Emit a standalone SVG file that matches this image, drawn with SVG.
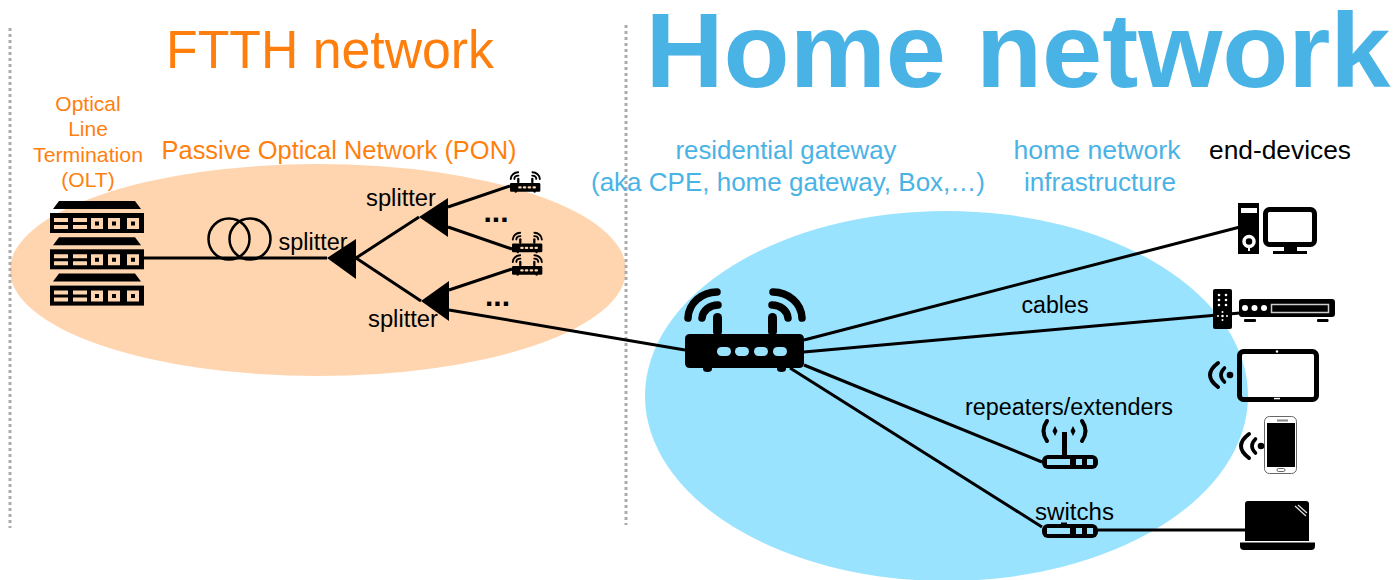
<svg xmlns="http://www.w3.org/2000/svg" xmlns:xlink="http://www.w3.org/1999/xlink" width="1397" height="580" viewBox="0 0 1397 580">
<style>
text{font-family:"Liberation Sans",Arial,sans-serif;fill:#000}
.o{fill:#FF7F0E}.b{fill:#4AB3E6}
.m{text-anchor:middle}
.c{fill:none;stroke:#000;stroke-width:3}
.a{fill:none;stroke:#000;stroke-linecap:round}
.w{fill:#fff}
</style>
<defs>
<g id="router">
<path fill="#000" d="M5 0H114Q119 0 119 5V29Q119 34 114 34H101V35A4.500 3 0 0 1 92 35V34H27V35A4.500 3 0 0 1 18 35V34H5Q0 34 0 29V5Q0 0 5 0Z"/>
<rect x="28" y="-21" width="9" height="23" rx="4.500" fill="#000"/><rect x="83" y="-21" width="9" height="23" rx="4.500" fill="#000"/>
<path class="a" stroke-width="7.500" d="M17 -16A16 14 0 0 1 33 -29M103 -16A16 14 0 0 0 87 -29"/>
<path class="a" stroke-width="7.500" d="M3 -16A29 27 0 0 1 32 -42M117 -16A29 27 0 0 0 88 -42"/>
<rect x="32" y="13" width="14" height="9" rx="4.500"/><rect x="50" y="13" width="14" height="9" rx="4.500"/><rect x="69" y="13" width="14" height="9" rx="4.500"/><rect x="88" y="13" width="14" height="9" rx="4.500"/>
</g>
<g id="oltunit">
<path fill="#000" d="M53 209L59 201H135L141 209Z"/>
<rect x="50" y="213" width="94" height="20" fill="#000"/>
<path fill="#FFD5B0" d="M54 218h14v4h-14zM73 218h14v4h-14zM54 225h14v4h-14zM73 225h14v4h-14z"/>
<path fill="#FFD5B0" fill-rule="evenodd" d="M91 218h12v11h-12zM95 221.500v4h4v-4zM108 218h12v11h-12zM112 221.500v4h4v-4zM127 218h12v11h-12zM131 221.500v4h4v-4z"/>
</g>
<g id="wifi">
<circle cx="0" cy="0" r="3.300" fill="#000"/>
<path class="a" stroke-width="3.600" d="M-5.500 -7Q-12.500 0 -5.500 7"/>
<path class="a" stroke-width="4" d="M-12 -12Q-28 0 -12 12"/>
</g>
<g id="box">
<rect width="56" height="14" rx="6" fill="#000"/>
<rect x="5" y="4" width="23" height="6"/><rect x="34" y="4" width="6" height="6"/><rect x="45" y="4" width="6" height="6"/>
</g>
</defs>

<rect width="1397" height="580" fill="#fff"/>
<ellipse cx="318" cy="270" rx="308" ry="106" fill="#FFD5B0"/>
<ellipse cx="946.500" cy="396" rx="301.500" ry="185" fill="#99E3FF"/>
<path d="M10 28V528M626 25V525" fill="none" stroke="#ABABAB" stroke-width="3" stroke-dasharray="3 3"/>

<text x="330" y="68" class="o m" font-size="54" textLength="328" lengthAdjust="spacingAndGlyphs">FTTH network</text>
<text x="1018" y="87" class="b m" font-size="106" font-weight="700" textLength="745" lengthAdjust="spacingAndGlyphs">Home network</text>
<g font-size="21">
<text x="88" y="111" class="o m">Optical</text><text x="88" y="136" class="o m">Line</text><text x="88" y="162" class="o m" textLength="110" lengthAdjust="spacingAndGlyphs">Termination</text><text x="88" y="187" class="o m">(OLT)</text>
</g>
<text x="339" y="159" class="o m" font-size="25" textLength="355" lengthAdjust="spacingAndGlyphs">Passive Optical Network (PON)</text>
<text x="786" y="159" class="b m" font-size="25" textLength="221" lengthAdjust="spacingAndGlyphs">residential gateway</text>
<text x="788" y="191" class="b m" font-size="25" textLength="394" lengthAdjust="spacingAndGlyphs">(aka CPE, home gateway, Box,…)</text>
<text x="1097" y="159" class="b m" font-size="25" textLength="167" lengthAdjust="spacingAndGlyphs">home network</text>
<text x="1100" y="191" class="b m" font-size="25" textLength="152" lengthAdjust="spacingAndGlyphs">infrastructure</text>
<text x="1280" y="159" class="m" font-size="25" textLength="142" lengthAdjust="spacingAndGlyphs">end-devices</text>

<g id="connectors">
<path class="c" d="M144 258H327M356 258L419 217M356 258L421 301M448 207L510 186M448 227L512 249M449 290L512 269M449 310L685 350"/>
<path class="c" d="M804 340L1240 227M804 352L1240 313M804 365L1042 462M790 368L1042 527M1098 530H1245"/>
<circle cx="229" cy="239" r="20.500" fill="none" stroke="#000" stroke-width="2.500"/>
<circle cx="250" cy="239" r="20.500" fill="none" stroke="#000" stroke-width="2.500"/>
</g>

<g id="olt">
<use xlink:href="#oltunit" href="#oltunit"/>
<use xlink:href="#oltunit" href="#oltunit" y="36.300"/>
<use xlink:href="#oltunit" href="#oltunit" y="72.600"/>
</g>
<g id="splitter-1"><path d="M327 258L356 239V279Z"/><text x="313" y="250" class="m" font-size="23" textLength="69" lengthAdjust="spacingAndGlyphs">splitter</text></g>
<g id="splitter-2"><path d="M419 217L448 198V237Z"/><text x="401" y="206" class="m" font-size="23" textLength="70" lengthAdjust="spacingAndGlyphs">splitter</text></g>
<g id="splitter-3"><path d="M421 301L449 281V321Z"/><text x="403" y="327" class="m" font-size="23" textLength="70" lengthAdjust="spacingAndGlyphs">splitter</text></g>
<text x="496" y="222" class="m" font-size="30" font-weight="700">...</text>
<text x="497.500" y="306" class="m" font-size="30" font-weight="700">...</text>

<g id="onu-1" fill="#FFD5B0"><use xlink:href="#router" href="#router" transform="translate(510 183) scale(.255)"/></g>
<g id="onu-2" fill="#FFD5B0"><use xlink:href="#router" href="#router" transform="translate(512 243.500) scale(.255)"/></g>
<g id="onu-3" fill="#FFD5B0"><use xlink:href="#router" href="#router" transform="translate(512 266) scale(.255)"/></g>
<g id="gateway" fill="#99E3FF"><use xlink:href="#router" href="#router" transform="translate(685 334)"/></g>

<text x="1055" y="313" class="m" font-size="23" textLength="67" lengthAdjust="spacingAndGlyphs">cables</text>
<g id="repeater" fill="#99E3FF">
<rect x="1062" y="432" width="5" height="24" fill="#000"/>
<use xlink:href="#box" href="#box" x="1042" y="455"/>
<path class="a" stroke-width="4" d="M1047 421Q1040 431 1047 441M1082 421Q1089 431 1082 441"/>
<path fill="#000" d="M1055 426L1057.500 431L1055 436L1052.500 431ZM1073 426L1075.500 431L1073 436L1070.500 431Z"/>
<text x="1069" y="415" class="m" font-size="23" textLength="208" lengthAdjust="spacingAndGlyphs">repeaters/extenders</text>
</g>
<g id="switch" fill="#99E3FF">
<rect x="1061" y="522.500" width="6" height="2" fill="#000"/>
<use xlink:href="#box" href="#box" x="1042" y="524"/>
<text x="1074.500" y="520" class="m" font-size="23" textLength="79" lengthAdjust="spacingAndGlyphs">switchs</text>
</g>

<g id="computer">
<rect x="1238" y="203" width="21" height="51" fill="#000"/>
<rect x="1241" y="208" width="16" height="5" class="w"/>
<circle cx="1249" cy="241.500" r="5" fill="none" stroke="#fff" stroke-width="3.500"/>
<rect x="1248" y="245" width="2" height="6" class="w"/>
<rect x="1265.500" y="209.500" width="49" height="35" rx="4" fill="none" stroke="#000" stroke-width="5"/>
<path fill="#000" d="M1284 247H1297V251H1307V254H1273V251H1284Z"/>
</g>
<g id="settop">
<rect x="1213" y="289" width="19" height="40" rx="2" fill="#000"/>
<g class="w"><circle cx="1219" cy="295" r="1.300"/><circle cx="1226" cy="295" r="1.300"/><circle cx="1219" cy="300" r="1.300"/><circle cx="1226" cy="300" r="1.300"/><circle cx="1219" cy="305" r="1.300"/><circle cx="1226" cy="305" r="1.300"/><circle cx="1222.500" cy="316" r="1.300"/><circle cx="1218" cy="316" r="1"/><circle cx="1227" cy="316" r="1"/><circle cx="1222.500" cy="312" r="1"/><circle cx="1222.500" cy="320" r="1"/></g>
<rect x="1239" y="299" width="96" height="18" rx="3" fill="#000"/>
<g class="w"><circle cx="1245" cy="308" r="3"/><circle cx="1254.500" cy="308" r="3"/><circle cx="1264" cy="308" r="3"/></g>
<rect x="1271.500" y="304.500" width="57" height="8" fill="#000" stroke="#ccc" stroke-width="1.500"/>
<rect x="1244" y="319" width="12" height="3" rx="1" fill="#000"/><rect x="1317" y="319" width="11.500" height="3" rx="1" fill="#000"/>
</g>
<g id="tablet">
<rect x="1239.500" y="351.500" width="77" height="48" rx="4" fill="none" stroke="#000" stroke-width="5"/>
<circle cx="1277" cy="351.500" r="1.200" class="w"/><rect x="1274" y="397.800" width="6" height="1.500" class="w"/>
<use xlink:href="#wifi" href="#wifi" x="1230" y="375"/>
</g>
<g id="phone">
<rect x="1264.500" y="416.500" width="32" height="57" rx="5" fill="#fff" stroke="#666" stroke-width="1"/>
<rect x="1267" y="423" width="28" height="44" fill="#000"/>
<rect x="1277" y="419.500" width="11" height="2" fill="#888"/>
<rect x="1277" y="468.500" width="8" height="3" rx="1.500" fill="#fff" stroke="#666"/>
<use xlink:href="#wifi" href="#wifi" x="1261" y="446"/>
</g>
<g id="laptop">
<path fill="#000" d="M1248 501H1306Q1309 501 1309 504V541H1245V504Q1245 501 1248 501Z"/>
<path fill="#000" d="M1240 542.500H1315V546Q1315 550 1311 550H1244Q1240 550 1240 546Z"/>
<path d="M1295 506L1306 516M1298 505L1307 513" fill="none" stroke="#ddd" stroke-width="1.300"/>
</g>
</svg>
